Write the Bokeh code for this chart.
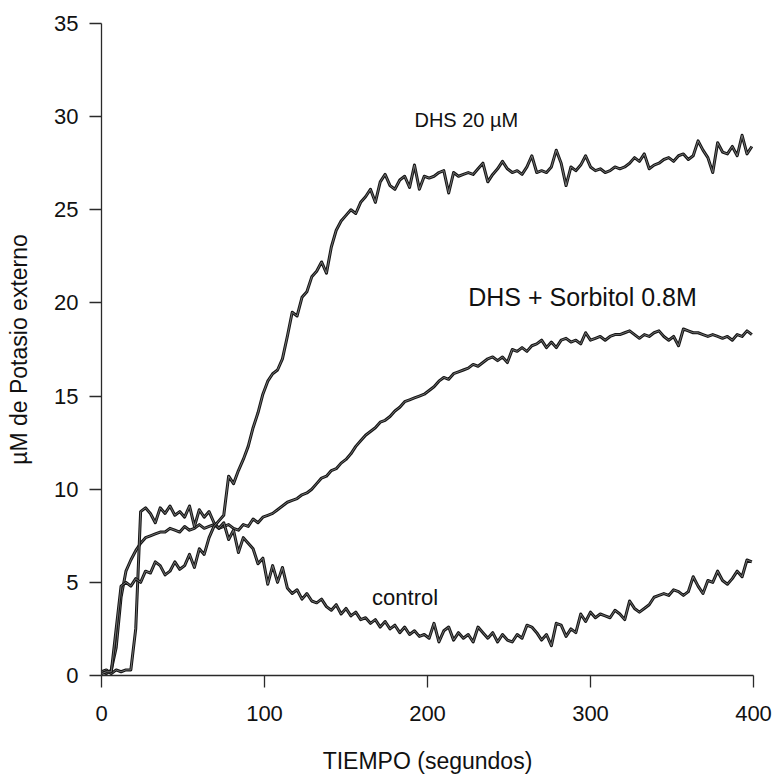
from bokeh.plotting import figure
from bokeh.models import Range1d, FixedTicker, ColumnDataSource
from bokeh.core.properties import value
from bokeh.embed import file_html
from bokeh.resources import INLINE

# ---------------- data ----------------
tiempo = [
    0, 3, 6, 9, 12, 15, 18, 21, 24, 27,
    30, 33, 36, 39, 42, 45, 48, 51, 54, 57,
    60, 63, 66, 69, 72, 75, 78, 81, 84, 87,
    90, 93, 96, 99, 102, 105, 108, 111, 114, 117,
    120, 123, 126, 129, 132, 135, 138, 141, 144, 147,
    150, 153, 156, 159, 162, 165, 168, 171, 174, 177,
    180, 183, 186, 189, 192, 195, 198, 201, 204, 207,
    210, 213, 216, 219, 222, 225, 228, 231, 234, 237,
    240, 243, 246, 249, 252, 255, 258, 261, 264, 267,
    270, 273, 276, 279, 282, 285, 288, 291, 294, 297,
    300, 303, 306, 309, 312, 315, 318, 321, 324, 327,
    330, 333, 336, 339, 342, 345, 348, 351, 354, 357,
    360, 363, 366, 369, 372, 375, 378, 381, 384, 387,
    390, 393, 396, 399,
]

control = [
    0.2, 0.3, 0.1, 0.3, 0.2, 0.3, 0.3, 2.5, 8.8, 9.0,
    8.7, 8.2, 9.0, 8.7, 9.1, 8.6, 8.8, 8.5, 9.1, 8.0,
    8.9, 8.5, 8.8, 8.2, 7.9, 8.2, 7.3, 7.8, 6.6, 7.4,
    7.1, 6.8, 6.0, 6.3, 4.9, 5.9, 5.0, 5.8, 4.7, 4.4,
    4.6, 4.1, 4.4, 4.0, 3.9, 4.1, 3.7, 3.5, 3.8, 3.3,
    3.6, 3.2, 3.4, 3.0, 3.1, 2.8, 3.0, 2.6, 2.9, 2.5,
    2.7, 2.3, 2.6, 2.2, 2.4, 2.1, 2.2, 2.0, 2.8, 1.8,
    2.4, 2.6, 1.9, 2.3, 2.0, 2.2, 1.8, 2.6, 2.3, 2.0,
    2.3, 1.8, 2.2, 1.9, 1.8, 2.2, 2.0, 2.7, 2.6, 2.3,
    1.9, 2.2, 1.6, 2.8, 2.7, 2.1, 2.5, 2.3, 3.3, 2.9,
    3.4, 3.1, 3.3, 3.2, 3.1, 3.5, 3.3, 3.0, 4.0, 3.6,
    3.4, 3.6, 3.8, 4.2, 4.3, 4.4, 4.3, 4.6, 4.5, 4.3,
    4.5, 5.3, 4.8, 4.4, 5.1, 5.0, 5.6, 5.1, 4.9, 5.2,
    5.6, 5.3, 6.2, 6.1,
]

dhs_20 = [
    0.1, 0.2, 0.2, 2.5, 4.8, 5.0, 4.8, 5.2, 5.0, 5.6,
    5.5, 6.1, 5.9, 5.4, 5.6, 6.1, 5.7, 5.9, 6.5, 5.8,
    6.8, 6.5, 7.4, 8.0, 8.3, 8.6, 10.7, 10.3, 11.0, 11.6,
    12.3, 13.3, 14.1, 15.1, 15.8, 16.2, 16.4, 17.0, 18.2, 19.5,
    19.3, 20.3, 20.6, 21.4, 21.7, 22.2, 21.6, 23.0, 23.9, 24.4,
    24.7, 25.0, 24.8, 25.4, 25.7, 26.1, 25.4, 26.5, 26.9, 26.3,
    26.1, 26.6, 26.8, 26.2, 27.4, 26.1, 26.8, 26.7, 26.8, 27.0,
    27.1, 25.9, 27.0, 26.8, 26.9, 27.0, 26.9, 27.2, 27.5, 26.5,
    26.9, 27.2, 27.6, 27.2, 27.0, 27.1, 26.9, 27.3, 27.9, 27.0,
    27.1, 27.0, 27.3, 28.2, 27.5, 26.3, 27.3, 27.1, 27.4, 27.9,
    27.3, 27.1, 27.2, 27.0, 27.1, 27.3, 27.2, 27.3, 27.5, 27.8,
    27.6, 28.0, 27.2, 27.4, 27.5, 27.7, 27.8, 27.6, 27.9, 28.0,
    27.7, 27.9, 28.7, 28.2, 27.8, 27.0, 28.6, 28.1, 28.0, 28.4,
    27.9, 29.0, 28.0, 28.4,
]

dhs_sorbitol = [
    0.2, 0.1, 0.3, 1.5, 4.2, 5.6, 6.2, 6.7, 7.1, 7.4,
    7.5, 7.6, 7.7, 7.7, 7.9, 7.8, 7.7, 8.0, 7.8, 7.9,
    8.1, 7.9, 8.0, 8.1, 7.9, 8.0, 8.1, 7.9, 7.8, 8.1,
    8.0, 8.4, 8.2, 8.5, 8.6, 8.7, 8.9, 9.1, 9.3, 9.4,
    9.5, 9.7, 9.8, 10.0, 10.3, 10.6, 10.7, 11.0, 11.1, 11.4,
    11.6, 11.9, 12.3, 12.6, 12.9, 13.1, 13.3, 13.6, 13.7, 13.9,
    14.2, 14.4, 14.7, 14.8, 14.9, 15.0, 15.1, 15.3, 15.5, 15.8,
    16.0, 15.9, 16.2, 16.3, 16.4, 16.5, 16.7, 16.6, 16.8, 17.0,
    17.1, 16.9, 17.1, 16.8, 17.5, 17.4, 17.6, 17.4, 17.7, 17.8,
    18.0, 17.6, 17.9, 17.6, 18.0, 18.1, 17.9, 18.0, 17.8, 18.4,
    18.0, 18.1, 18.2, 18.0, 18.2, 18.3, 18.3, 18.4, 18.5, 18.3,
    18.1, 18.3, 18.2, 18.4, 18.5, 18.2, 18.0, 18.2, 17.7, 18.6,
    18.5, 18.4, 18.4, 18.3, 18.2, 18.3, 18.2, 18.1, 18.2, 18.0,
    18.3, 18.2, 18.5, 18.3,
]

x_ticks = [0, 100, 200, 300, 400]
y_ticks = [0, 5, 10, 15, 20, 25, 30, 35]

labels = ["DHS 20 \u00b5M", "DHS +  Sorbitol 0.8M", "control"]
label_x = [192, 225, 166]
label_y = [29.8, 20.3, 4.2]
label_size = ["20px", "25px", "22px"]

FONT = "Liberation Sans"

# ---------------- figure ----------------
p = figure(width=774, height=776, output_backend="svg", toolbar_location=None,
           x_range=Range1d(0, 400), y_range=Range1d(0, 35),
           min_border_left=101, min_border_right=21,
           min_border_top=23, min_border_bottom=100)
p.outline_line_color = None
p.xgrid.visible = False
p.ygrid.visible = False
p.background_fill_color = "white"
p.border_fill_color = "white"

for ax, ticks in ((p.xaxis, x_ticks), (p.yaxis, y_ticks)):
    ax.ticker = FixedTicker(ticks=ticks)
    ax.minor_tick_line_color = None
    ax.major_tick_in = 0
    ax.major_tick_out = 12
    ax.axis_line_color = "#2a2a2a"
    ax.axis_line_width = 1.3
    ax.major_tick_line_color = "#2a2a2a"
    ax.major_tick_line_width = 1.3
    ax.major_label_text_font = FONT
    ax.major_label_text_font_size = "22px"
    ax.major_label_text_color = "#111111"
    ax.axis_label_text_font = FONT
    ax.axis_label_text_font_size = "23px"
    ax.axis_label_text_font_style = "normal"
    ax.axis_label_text_color = "#111111"

p.xaxis.axis_label = "TIEMPO (segundos)"
p.yaxis.axis_label = "\u00b5M de Potasio externo"
p.xaxis.major_label_standoff = 18
p.xaxis.axis_label_standoff = 24
p.yaxis.major_label_standoff = 11
p.yaxis.axis_label_standoff = 19

for series in (dhs_sorbitol, control, dhs_20):
    src = ColumnDataSource(dict(t=tiempo, v=series))
    p.line("t", "v", source=src, line_color="#141414", line_width=3.0,
           line_join="round")
    p.line("t", "v", source=src, line_color="#8a8a8a", line_width=0.8,
           line_join="round")

src_lab = ColumnDataSource(dict(x=label_x, y=label_y, text=labels, size=label_size))
p.text("x", "y", text="text", source=src_lab, text_font=value(FONT),
       text_font_size="size", text_baseline="middle", text_align="left",
       text_color="#111111")

open("out.html", "w").write(file_html(p, INLINE))
